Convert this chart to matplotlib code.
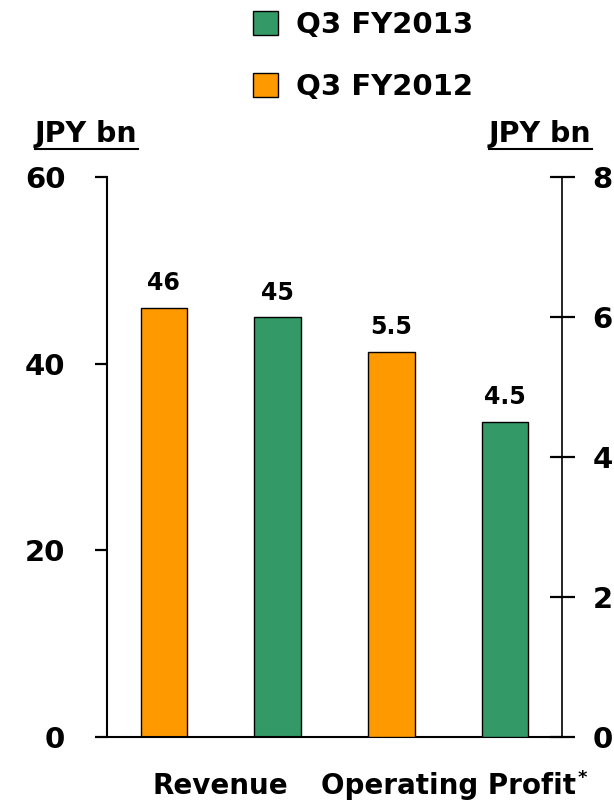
import matplotlib.pyplot as plt
from matplotlib.lines import Line2D

categories = ["Revenue", "Operating Profit"]
fy2012 = [46, 5.5]
fy2013 = [45, 4.5]
left_ticks = [0, 20, 40, 60]
right_ticks = [0, 2, 4, 6, 8]
unit = "JPY bn"

GREEN = "#339966"
ORANGE = "#FF9900"

plt.rcParams["font.family"] = "DejaVu Sans"
plt.rcParams["font.weight"] = "bold"

fig = plt.figure(figsize=(6.14, 8.02), dpi=100)
ax = fig.add_axes([107 / 614, 65 / 802, 455 / 614, 560 / 802])
ax2 = ax.twinx()

width = 0.41
bars = []
for i, axis in enumerate([ax, ax2]):
    b12 = axis.bar(2 * i, fy2012[i], width, color=ORANGE, edgecolor="black", linewidth=1.0)
    b13 = axis.bar(2 * i + 1, fy2013[i], width, color=GREEN, edgecolor="black", linewidth=1.0)
    bars.append((b12, b13))
    for b in (b12, b13):
        axis.annotate(f"{b[0].get_height():g}",
                      (b[0].get_x() + b[0].get_width() / 2, b[0].get_height()),
                      xytext=(0, 9), textcoords="offset points",
                      ha="center", va="bottom", fontsize=17, fontweight="bold")

ax.set_xlim(-0.5, 3.5)
ax.set_ylim(0, 60)
ax2.set_ylim(0, 8)
ax.set_yticks(left_ticks)
ax2.set_yticks(right_ticks)

for s in ["top", "right"]:
    ax.spines[s].set_visible(False)
for s in ["top", "left", "bottom"]:
    ax2.spines[s].set_visible(False)
ax.spines["left"].set_linewidth(1.5)
ax.spines["bottom"].set_linewidth(1.5)
ax2.spines["right"].set_linewidth(1.2)

ax.tick_params(axis="y", direction="out", length=9, width=1.6, pad=21, labelsize=21)
ax2.tick_params(axis="y", direction="inout", length=18, width=1.6, pad=13, labelsize=21)

# category labels sit between each pair of bars
ax.set_xticks([0.5, 2.5])
ax.set_xticklabels(categories, fontsize=20, fontweight="bold")
ax.tick_params(axis="x", length=0, pad=25)

fig.legend([bars[0][1], bars[0][0]], ["Q3 FY2013", "Q3 FY2012"],
           loc="upper left", bbox_to_anchor=(253 / 614, 1 - 11 / 802),
           frameon=False, fontsize=21, handlelength=0.86, handleheight=0.86,
           handletextpad=0.62, labelspacing=1.17, borderpad=0, borderaxespad=0)

# underlined unit labels above each axis
t_left = fig.text(35 / 614, 1 - 142 / 802, unit, fontsize=20.5, fontweight="bold",
                  ha="left", va="baseline")
t_right = fig.text(489 / 614, 1 - 142 / 802, unit, fontsize=20.5, fontweight="bold",
                   ha="left", va="baseline")
fig.canvas.draw()
inv = fig.transFigure.inverted()
for t in (t_left, t_right):
    bb = t.get_window_extent().transformed(inv)
    fig.add_artist(Line2D([bb.x0, bb.x1], [bb.y0 - 0.001, bb.y0 - 0.001],
                          color="black", linewidth=1.5, transform=fig.transFigure))

# footnote marker after the operating profit label
op_label = ax.get_xticklabels()[1]
bb = op_label.get_window_extent().transformed(inv)
fig.text(bb.x1 + 0.003, bb.y1 + 0.004, "*", fontsize=13, fontweight="bold",
         ha="left", va="top")

fig.savefig("out.png", dpi=100)
